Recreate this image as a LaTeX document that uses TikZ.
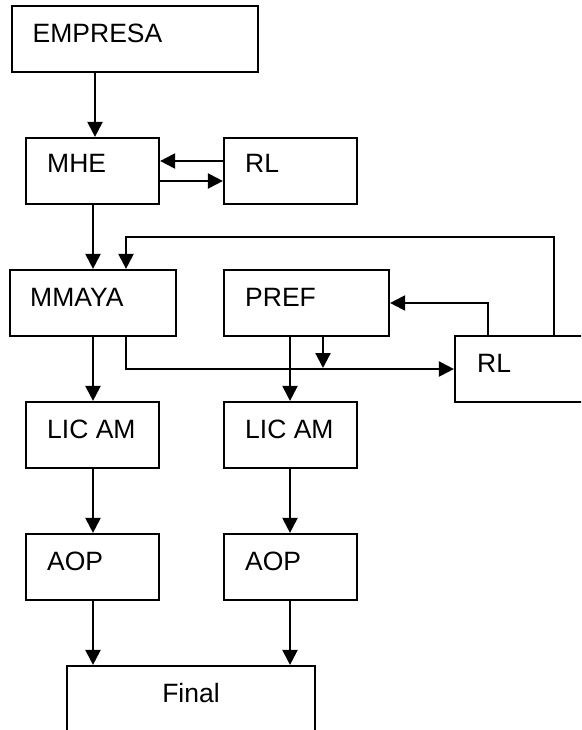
\documentclass[tikz,border=0pt]{standalone}
\usepackage{fontspec}
\setmainfont{Liberation Sans}
\usetikzlibrary{arrows.meta}
\begin{document}
\begin{tikzpicture}[x=1pt,y=-1pt,
  box/.style={draw,line width=2.2pt,inner sep=0pt,minimum width=#1},
  box/.default=133pt,
  lbl/.style={anchor=base west,inner sep=0pt,font=\fontsize{26.5}{30}\selectfont},
  arr/.style={line width=2.2pt,-{Triangle[length=15pt,width=15pt]}},
  ln/.style={line width=2.2pt}]
\clip (0,0) rectangle (581,730);
\fill[white] (0,0) rectangle (581,730);
% boxes
\node[box=246pt,minimum height=66pt] (emp) at (135,39) {};
\node[box,minimum height=66pt] (mhe) at (92.5,171) {};
\node[box,minimum height=66pt] (rla) at (290.5,171) {};
\node[box=166pt,minimum height=66pt] (mmaya) at (93,303) {};
\node[box=165pt,minimum height=66pt] (pref) at (306.5,303) {};
\node[box=140pt,minimum height=66pt] (rlb) at (525,369) {};
\node[box,minimum height=66pt] (lica) at (92.5,435) {};
\node[box,minimum height=66pt] (licb) at (290.5,435) {};
\node[box,minimum height=66pt] (aopa) at (92.5,567) {};
\node[box,minimum height=66pt] (aopb) at (290.5,567) {};
\node[box=248pt,minimum height=80pt] (fin) at (191,706) {};
% labels
\node[lbl] (temp) at (32.5,42.3) {EMPRESA};
\node[lbl] (tmhe) at (47,173) {MHE};
\node[lbl] (trla) at (245,173) {RL};
\node[lbl] (tmmaya) at (30,306) {MMAYA};
\node[lbl] (tpref) at (245,306) {PREF};
\node[lbl] (trlb) at (477,372) {RL};
\node[lbl] (tlica) at (47,438) {LIC AM};
\node[lbl] (tlicb) at (245,438) {LIC AM};
\node[lbl] (taopa) at (47,570) {AOP};
\node[lbl] (taopb) at (245,570) {AOP};
\node[lbl,anchor=base] (tfin) at (191,702) {Final};
% lane coordinates
\coordinate (xe) at (95,0);
\coordinate (xl) at (93,0);
\coordinate (xf) at (126,0);
\coordinate (xr) at (290,0);
\coordinate (xp) at (323,0);
\coordinate (xq) at (488,0);
\coordinate (xs) at (554,0);
\coordinate (ya) at (0,161);
\coordinate (yb) at (0,181);
\coordinate (yt) at (0,237);
\coordinate (yp) at (0,303);
\coordinate (yh) at (0,369);
\coordinate (hj) at (323,368);
% connectors
\draw[arr] (emp.south -| xe) -- (mhe.north -| xe);
\draw[arr] (rla.west |- ya) -- (mhe.east |- ya);
\draw[arr] (mhe.east |- yb) -- (rla.west |- yb);
\draw[arr] (mhe.south -| xl) -- (mmaya.north -| xl);
\draw[arr] (rlb.north -| xs) -- (xs |- yt) -- (xf |- yt) -- (mmaya.north -| xf);
\draw[arr] (rlb.north -| xq) -- (xq |- yp) -- (pref.east |- yp);
\draw[arr] (mmaya.south -| xf) -- (xf |- yh) -- (rlb.west |- yh);
\draw[arr] (pref.south -| xp) -- (hj);
\draw[arr] (pref.south -| xr) -- (licb.north -| xr);
\draw[arr] (mmaya.south -| xl) -- (lica.north -| xl);
\draw[arr] (lica.south -| xl) -- (aopa.north -| xl);
\draw[arr] (licb.south -| xr) -- (aopb.north -| xr);
\draw[arr] (aopa.south -| xl) -- (fin.north -| xl);
\draw[arr] (aopb.south -| xr) -- (fin.north -| xr);
\end{tikzpicture}
\end{document}
